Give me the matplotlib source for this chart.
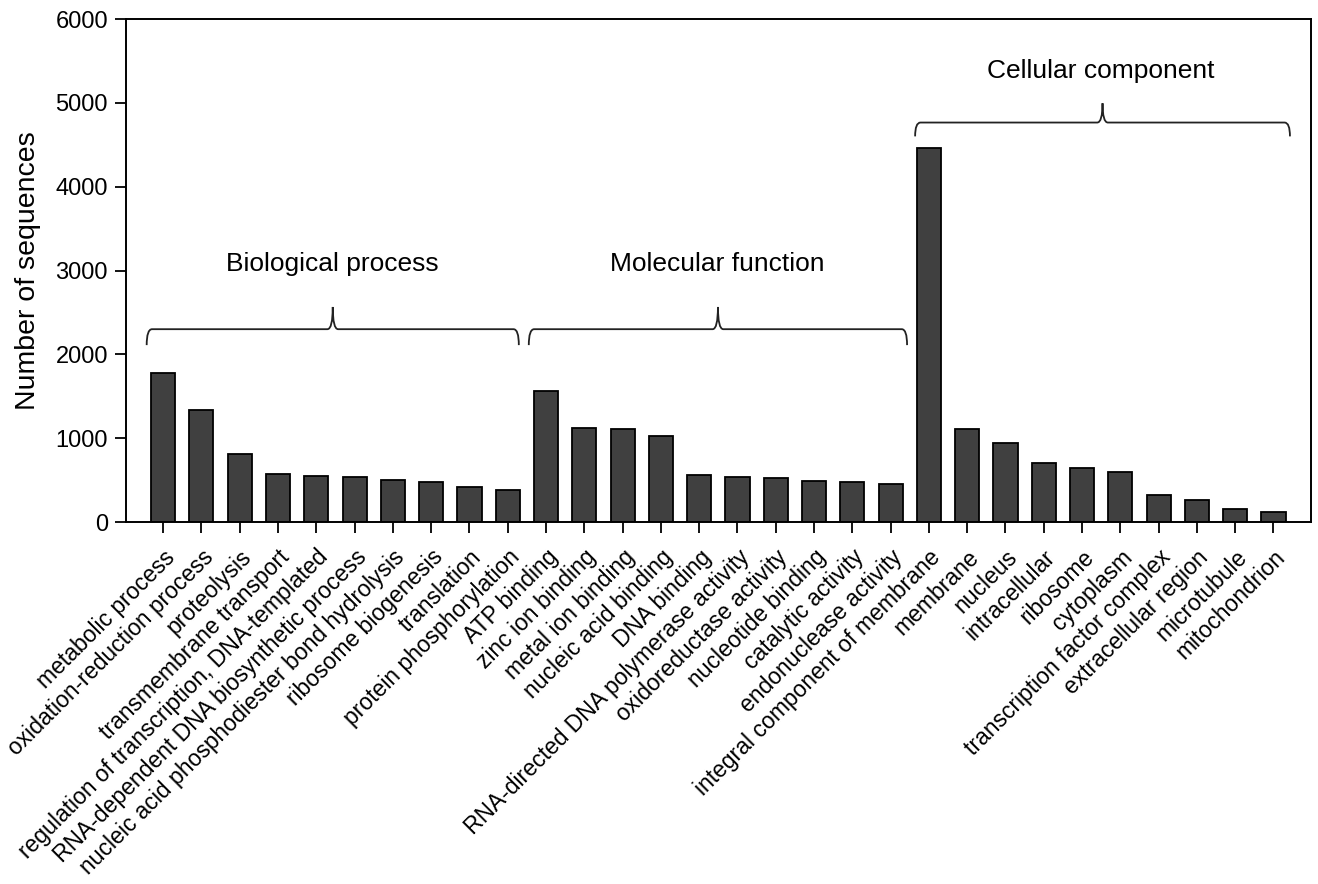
import numpy as np
import matplotlib
matplotlib.use("Agg")
import matplotlib.pyplot as plt
from matplotlib.path import Path
from matplotlib.patches import PathPatch

plt.rcParams['font.family'] = ['Liberation Sans', 'DejaVu Sans']

# GO terms and sequence counts, grouped by ontology
bio_terms = ['metabolic process', 'oxidation-reduction process', 'proteolysis',
             'transmembrane transport', 'regulation of transcription, DNA-templated',
             'RNA-dependent DNA biosynthetic process',
             'nucleic acid phosphodiester bond hydrolysis', 'ribosome biogenesis',
             'translation', 'protein phosphorylation']
bio_counts = [1775, 1336, 807, 573, 549, 541, 501, 473, 421, 386]

mol_terms = ['ATP binding', 'zinc ion binding', 'metal ion binding',
             'nucleic acid binding', 'DNA binding',
             'RNA-directed DNA polymerase activity', 'oxidoreductase activity',
             'nucleotide binding', 'catalytic activity', 'endonuclease activity']
mol_counts = [1563, 1121, 1106, 1030, 564, 541, 529, 493, 473, 450]

cel_terms = ['integral component of membrane', 'membrane', 'nucleus',
             'intracellular', 'ribosome', 'cytoplasm',
             'transcription factor complex', 'extracellular region',
             'microtubule', 'mitochondrion']
cel_counts = [4458, 1113, 939, 700, 648, 600, 326, 266, 151, 123]

group_names = ['Biological process', 'Molecular function', 'Cellular component']

terms = bio_terms + mol_terms + cel_terms
counts = bio_counts + mol_counts + cel_counts
x = np.arange(len(terms))

fig = plt.figure(figsize=(13.18, 8.84), dpi=100)
ax = fig.add_axes([0.0956, 0.4095, 0.8991, 0.569])

ax.bar(x, counts, width=0.63, color='#404040', edgecolor='black', linewidth=1.3)

ax.set_xlim(-0.97, 29.98)
ax.set_ylim(0, 6000)
ax.set_yticks(np.arange(0, 6001, 1000))
ax.set_xticks(x)
ax.set_xticklabels(terms, rotation=45, ha='right', va='top',
                   rotation_mode='anchor', fontsize=16.5)
ax.tick_params(axis='both', direction='out', length=8, width=1.3,
               labelsize=17, pad=5)
ax.tick_params(axis='x', labelsize=16.5, pad=9)
ax.set_ylabel('Number of sequences', fontsize=20.5, labelpad=10)
for sp in ax.spines.values():
    sp.set_linewidth(1.4)


def brace(ax, x0, x1, y_end, y_line, y_tip, dx=0.14):
    xm = (x0 + x1) / 2
    verts = [(x0, y_end), (x0, y_line), (x0 + dx, y_line),
             (xm - dx, y_line), (xm, y_line), (xm, y_tip),
             (xm, y_line), (xm + dx, y_line),
             (x1 - dx, y_line), (x1, y_line), (x1, y_end)]
    codes = [Path.MOVETO, Path.CURVE3, Path.CURVE3,
             Path.LINETO, Path.CURVE3, Path.CURVE3,
             Path.CURVE3, Path.CURVE3,
             Path.LINETO, Path.CURVE3, Path.CURVE3]
    ax.add_patch(PathPatch(Path(verts, codes), fill=False,
                           edgecolor='#222222', linewidth=1.3))


# brackets over each ontology group, with the group name above
brace(ax, -0.43, 9.29, 2110, 2300, 2565)
brace(ax, 9.55, 19.43, 2110, 2300, 2565)
brace(ax, 19.64, 29.43, 4600, 4765, 4995)

ax.text(4.43, 3080, group_names[0], ha='center', va='center', fontsize=19)
ax.text(14.48, 3080, group_names[1], ha='center', va='center', fontsize=19)
ax.text(24.5, 5380, group_names[2], ha='center', va='center', fontsize=19)

fig.savefig('out.png', dpi=100)
